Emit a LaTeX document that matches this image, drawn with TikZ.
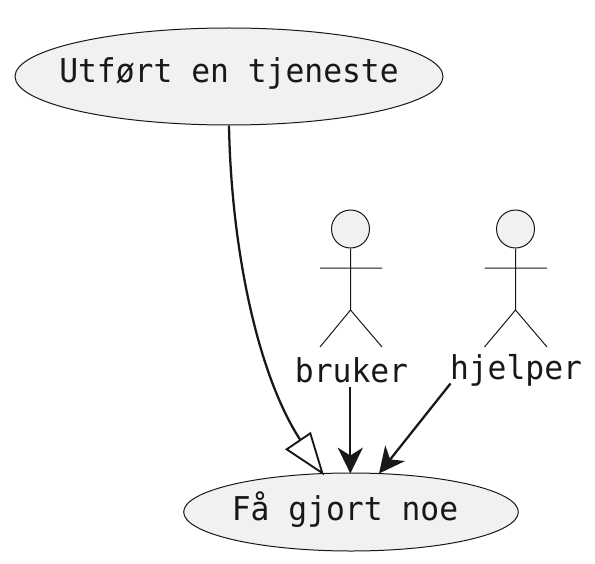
\documentclass[tikz,border=0pt]{standalone}
\usepackage{fontspec}
\setmainfont[FakeStretch=0.955]{DejaVu Sans Mono}
\usetikzlibrary{shapes.geometric,arrows.meta}
\definecolor{fillg}{HTML}{F1F1F1}
\definecolor{ink}{HTML}{181818}
\tikzset{x=0.75pt,y=-0.75pt,
 uc/.style={ellipse,draw=ink,fill=fillg,line width=0.75pt,inner sep=0pt,minimum width=#1},
 lab/.style={font=\fontsize{24.6pt}{28pt}\selectfont,text=ink,inner sep=0pt},
 fig/.style={draw=ink,line width=0.75pt},
 conn/.style={draw=ink,line width=1.7pt},
 head/.style={-{Stealth[length=19.5pt,width=19pt,inset=6pt,line width=0pt]}},
 tri/.style={draw=ink,line width=1.4pt,fill=white,line join=miter}}
\begin{document}
\begin{tikzpicture}
\useasboundingbox (0,0) rectangle (595,563);
\node[uc=321pt,minimum height=72.75pt] (a) at (229,76.5) {};
\node[lab] at (229,73) (atext) {Utført en tjeneste};
\node[uc=251pt,minimum height=58.5pt] (b) at (351,512) {};
\node[lab] at (345,510) (btext) {Få gjort noe};
\node[circle,fig,fill=fillg,minimum size=28.5pt,inner sep=0pt] (h1) at (350.5,229) {};
\node[circle,fig,fill=fillg,minimum size=28.5pt,inner sep=0pt] (h2) at (515.5,229) {};
\coordinate (s1) at (350.5,310); \coordinate (s2) at (515.5,310);
\coordinate (al1) at (320,268); \coordinate (ar1) at (382,268);
\coordinate (fl1) at (320,347); \coordinate (fr1) at (382,347);
\coordinate (al2) at (484.5,268); \coordinate (ar2) at (547,268);
\coordinate (fl2) at (484.5,347); \coordinate (fr2) at (547,347);
\draw[fig] (h1.south) -- (s1) (al1) -- (ar1) (fl1) -- (s1) -- (fr1);
\draw[fig] (h2.south) -- (s2) (al2) -- (ar2) (fl2) -- (s2) -- (fr2);
\node[lab] (u1) at (351.5,370) {bruker};
\node[lab] (u2) at (516,370) {hjelper};
\coordinate (p1) at (350.3,387);
\coordinate (e1) at (350.3,473.5);
\coordinate (p2) at (450.5,383.5);
\coordinate (e2) at (379,473.5);
\draw[conn,head] (p1) -- (e1);
\draw[conn,head] (p2) -- (e2);
\coordinate (t1) at (300,439.5);
\draw[conn] (a.south) .. controls (231,240) and (255,370) .. (t1);
\coordinate (tip) at (322.3,473);
\coordinate (bl) at (286.7,449.3);
\coordinate (br) at (310.3,433.3);
\draw[tri] (tip) -- (bl) -- (br) -- cycle;
\end{tikzpicture}
\end{document}
